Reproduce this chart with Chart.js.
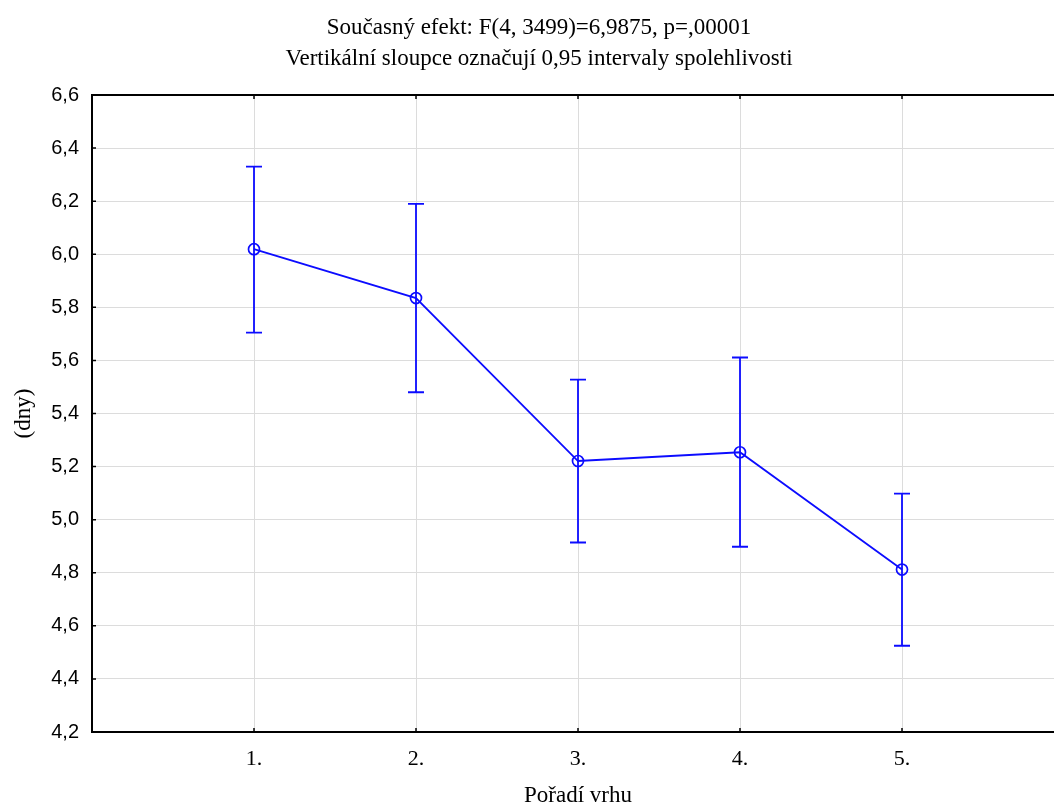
<!DOCTYPE html>
<html>
<head>
<meta charset="utf-8">
<script src="https://cdn.jsdelivr.net/npm/chart.js@4.4.1/dist/chart.umd.min.js"></script>
<style>
  html, body { margin: 0; padding: 0; background: #fff; overflow: hidden; }
  #wrap { width: 1054px; height: 808px; overflow: hidden; }
</style>
</head>
<body>
<div id="wrap">
  <canvas id="myChart" width="1078" height="808"></canvas>
</div>
<script>
// data
const categories = ["1.", "2.", "3.", "4.", "5."];
const means = [6.019, 5.835, 5.221, 5.254, 4.812];
const upper = [6.330, 6.190, 5.528, 5.611, 5.098];
const lower = [5.705, 5.480, 4.914, 4.898, 4.525];
const titleLines = [
  "Současný efekt: F(4, 3499)=6,9875, p=,00001",
  "Vertikální sloupce označují 0,95 intervaly spolehlivosti"
];

const blue = "#0c0cff";
const serif = "'Liberation Serif', 'Times New Roman', serif";
const sans = "'Liberation Sans', Arial, sans-serif";

// error bars drawn with the chart's own scales
const errorBars = {
  id: "errorBars",
  afterDatasetsDraw(chart) {
    const { ctx, scales: { x, y } } = chart;
    ctx.save();
    ctx.strokeStyle = blue;
    ctx.lineWidth = 1.8;
    categories.forEach((c, i) => {
      const px = x.getPixelForValue(i + 1);
      const top = y.getPixelForValue(upper[i]);
      const bot = y.getPixelForValue(lower[i]);
      ctx.beginPath();
      ctx.moveTo(px, top);
      ctx.lineTo(px, bot);
      ctx.moveTo(px - 8, top);
      ctx.lineTo(px + 8, top);
      ctx.moveTo(px - 8, bot);
      ctx.lineTo(px + 8, bot);
      ctx.stroke();
    });
    ctx.restore();
  }
};

// frame + inner tick marks
const frame = {
  id: "frame",
  afterDraw(chart) {
    const { ctx, chartArea: a, scales: { x, y } } = chart;
    ctx.save();
    ctx.strokeStyle = "#000";
    ctx.lineWidth = 2;
    ctx.beginPath();
    ctx.moveTo(a.right + 2, a.top);
    ctx.lineTo(a.left, a.top);
    ctx.lineTo(a.left, a.bottom);
    ctx.lineTo(a.right + 2, a.bottom);
    ctx.stroke();
    ctx.lineWidth = 1.5;
    ctx.beginPath();
    categories.forEach((c, i) => {
      const px = x.getPixelForValue(i + 1);
      ctx.moveTo(px, a.top);
      ctx.lineTo(px, a.top + 4);
      ctx.moveTo(px, a.bottom);
      ctx.lineTo(px, a.bottom - 4);
    });
    y.ticks.forEach(t => {
      const py = y.getPixelForValue(t.value);
      ctx.moveTo(a.left, py);
      ctx.lineTo(a.left + 4, py);
    });
    ctx.stroke();
    ctx.restore();
  }
};

const ctx = document.getElementById("myChart");
new Chart(ctx, {
  type: "line",
  data: {
    datasets: [{
      data: means.map((v, i) => ({ x: i + 1, y: v })),
      borderColor: blue,
      borderWidth: 1.8,
      pointStyle: "circle",
      pointRadius: 5.5,
      pointBorderWidth: 1.7,
      pointBorderColor: blue,
      pointBackgroundColor: "transparent",
      tension: 0
    }]
  },
  options: {
    responsive: false,
    animation: false,
    devicePixelRatio: 1,
    layout: { padding: 0 },
    plugins: {
      legend: { display: false },
      tooltip: { enabled: false },
      title: {
        display: true,
        text: titleLines,
        color: "#000",
        font: { family: serif, size: 23, weight: "normal", lineHeight: 31 / 23 },
        padding: { top: 12, bottom: 21 }
      }
    },
    scales: {
      x: {
        type: "linear",
        min: 0,
        max: 6,
        afterFit: s => { s.height = 76; },
        ticks: {
          stepSize: 1,
          color: "#000",
          font: { family: serif, size: 22 },
          padding: 14,
          maxRotation: 0,
          callback: v => categories[v - 1] || ""
        },
        grid: { color: "#dcdcdc", lineWidth: 1, drawTicks: false },
        border: { display: false },
        title: {
          display: true,
          text: "Pořadí vrhu",
          color: "#000",
          font: { family: serif, size: 23, lineHeight: 1.05 },
          padding: { top: 0, bottom: 0 }
        }
      },
      y: {
        min: 4.2,
        max: 6.6,
        afterFit: s => { s.width = 92; },
        ticks: {
          stepSize: 0.2,
          color: "#000",
          font: { family: sans, size: 20 },
          padding: 13,
          callback: v => v.toFixed(1).replace(".", ",")
        },
        grid: { color: "#dcdcdc", lineWidth: 1, drawTicks: false },
        border: { display: false },
        title: {
          display: true,
          text: "(dny)",
          color: "#000",
          font: { family: serif, size: 23 },
          padding: { top: 10, bottom: 0 }
        }
      }
    }
  },
  plugins: [errorBars, frame]
});
</script>
</body>
</html>
